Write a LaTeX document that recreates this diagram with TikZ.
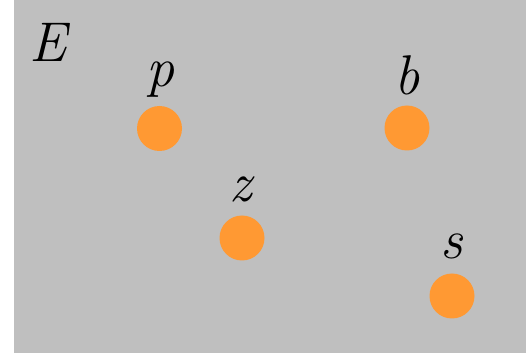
\documentclass[tikz,border=0pt]{standalone}
\usepackage{fontspec}
\definecolor{boxgray}{RGB}{191,191,191}
\definecolor{dotorange}{RGB}{255,153,51}
\tikzset{
  dot/.style={circle, fill=dotorange, inner sep=0pt, minimum size=33.75pt},
  lbl/.style={anchor=base, inner sep=0pt, font=\fontsize{42}{46}\selectfont\itshape}
}
\begin{document}
\begin{tikzpicture}[x=0.75pt, y=-0.75pt]
  \useasboundingbox (0,0) rectangle (526,353);
  % Set box
  \fill [boxgray] (14,0) rectangle (526,353);
  \node [lbl] (E) at (48,62) {E};
  % Points
  \node [dot] (p) at (159.5,128.5) {};
  \node [dot] (b) at (407,128) {};
  \node [dot] (z) at (242,238) {};
  \node [dot] (s) at (452,296) {};
  % Point names
  \node [lbl] (plbl) at (160,87) {p};
  \node [lbl] (blbl) at (407,95) {b};
  \node [lbl] (zlbl) at (241,202) {z};
  \node [lbl] (slbl) at (452,259) {s};
\end{tikzpicture}
\end{document}
